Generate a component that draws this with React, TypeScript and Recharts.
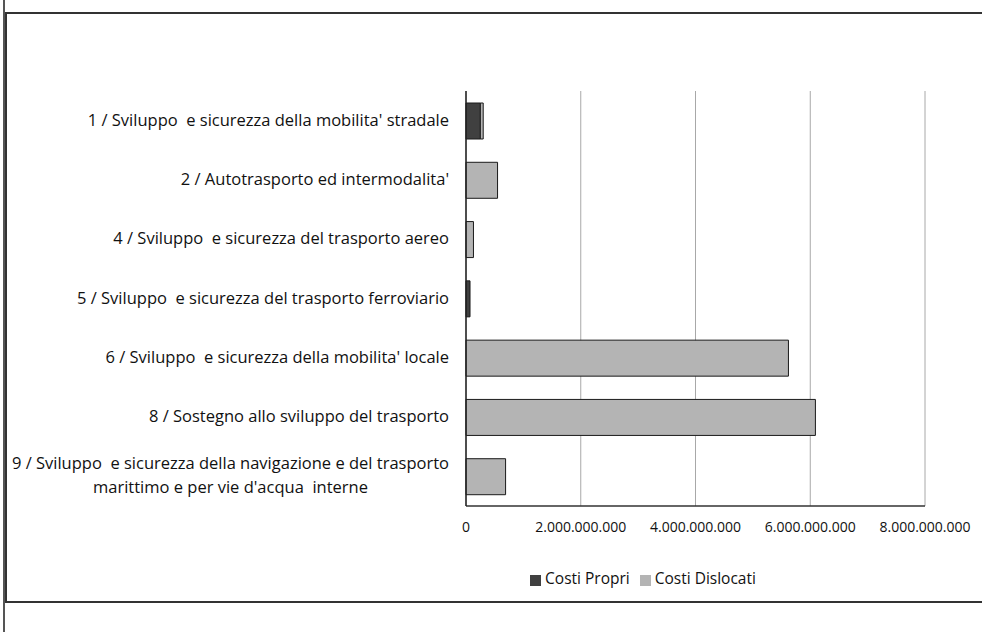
import React from "react"
import {
    BarChart,
    Bar,
    XAxis,
    YAxis,
    CartesianGrid,
    Legend,
} from "recharts"

const categories = [
    "1 / Sviluppo  e sicurezza della mobilita' stradale",
    "2 / Autotrasporto ed intermodalita'",
    "4 / Sviluppo  e sicurezza del trasporto aereo",
    "5 / Sviluppo  e sicurezza del trasporto ferroviario",
    "6 / Sviluppo  e sicurezza della mobilita' locale",
    "8 / Sostegno allo sviluppo del trasporto",
    "9 / Sviluppo  e sicurezza della navigazione e del trasporto|marittimo e per vie d'acqua  interne",
]
const costiPropri = [250000000, 0, 0, 70000000, 0, 0, 0]
const costiDislocati = [50000000, 550000000, 130000000, 0, 5620000000, 6090000000, 690000000]
const xTicks = [0, 2000000000, 4000000000, 6000000000, 8000000000]

const data = categories.map((name, i) => ({
    name,
    propri: costiPropri[i],
    dislocati: costiDislocati[i],
}))

const FONT = "'Open Sans', 'Noto Sans', sans-serif"
const LABEL_SIZE = 16.5

const fmt = (n: number) => String(n).replace(/\B(?=(\d{3})+(?!\d))/g, ".")

let ctx: CanvasRenderingContext2D | null = null
function textWidth(s: string) {
    if (!ctx) ctx = document.createElement("canvas").getContext("2d")
    if (!ctx) return s.length * 8.6
    ctx.font = `${LABEL_SIZE}px ${FONT}`
    return ctx.measureText(s).width
}

function CategoryTick(props: any) {
    const { x, y, payload } = props
    const lines: string[] = String(payload.value).split("|")
    const endX = x - 9
    if (lines.length === 1) {
        return (
            <text x={endX} y={y} dy={5} textAnchor="end" fontSize={LABEL_SIZE} fontFamily={FONT} fill="#111" style={{ whiteSpace: "pre" }}>
                {lines[0]}
            </text>
        )
    }
    const w = Math.max(...lines.map(textWidth))
    const cx = endX - w / 2
    return (
        <text x={cx} y={y} textAnchor="middle" fontSize={LABEL_SIZE} fontFamily={FONT} fill="#111" style={{ whiteSpace: "pre" }}>
            {lines.map((l, i) => (
                <tspan key={i} x={cx} dy={i === 0 ? -7 : 24}>
                    {l}
                </tspan>
            ))}
        </text>
    )
}

const legendOrder = ["Costi Propri", "Costi Dislocati"]

export default function App() {
    return (
        <div style={{ position: "absolute", left: 0, top: 0, width: 982, height: 632, background: "#fff" }}>
            <div style={{ position: "absolute", left: 3, top: 0, width: 2, height: 632, background: "#555" }} />
            <div
                style={{
                    position: "absolute",
                    left: 5,
                    top: 12,
                    width: 990,
                    height: 587,
                    border: "2px solid #333",
                    borderRight: "none",
                }}
            />
            <BarChart
                width={982}
                height={632}
                data={data}
                layout="vertical"
                margin={{ top: 91, right: 57, left: 0, bottom: 74 }}
                style={{ position: "absolute", left: 0, top: 0 }}
            >
                <CartesianGrid horizontal={false} stroke="#a8a8a8" />
                <XAxis
                    type="number"
                    domain={[0, 8000000000]}
                    ticks={xTicks}
                    tickFormatter={fmt}
                    tickLine={false}
                    axisLine={{ stroke: "#333", strokeWidth: 1.5 }}
                    tick={{ fontSize: 14, fontFamily: FONT, fill: "#111" }}
                    tickMargin={10}
                    height={30}
                />
                <YAxis
                    type="category"
                    dataKey="name"
                    width={466}
                    tickLine={false}
                    axisLine={{ stroke: "#222", strokeWidth: 1.5 }}
                    tick={<CategoryTick />}
                    interval={0}
                />
                <Legend
                    verticalAlign="bottom"
                    iconType="square"
                    iconSize={11}
                    itemSorter={(item: any) => legendOrder.indexOf(item.value)}
                    formatter={(v: string) => (
                        <span style={{ color: "#111", fontSize: 15.5, fontFamily: FONT }}>{v}</span>
                    )}
                    wrapperStyle={{ position: "absolute", top: 567, left: 308, width: 680 }}
                />
                <Bar
                    dataKey="propri"
                    name="Costi Propri"
                    stackId="a"
                    fill="#404040"
                    stroke="#1a1a1a"
                    barSize={36}
                    isAnimationActive={false}
                />
                <Bar
                    dataKey="dislocati"
                    name="Costi Dislocati"
                    stackId="a"
                    fill="#b4b4b4"
                    stroke="#1a1a1a"
                    barSize={36}
                    isAnimationActive={false}
                />
            </BarChart>
        </div>
    )
}
